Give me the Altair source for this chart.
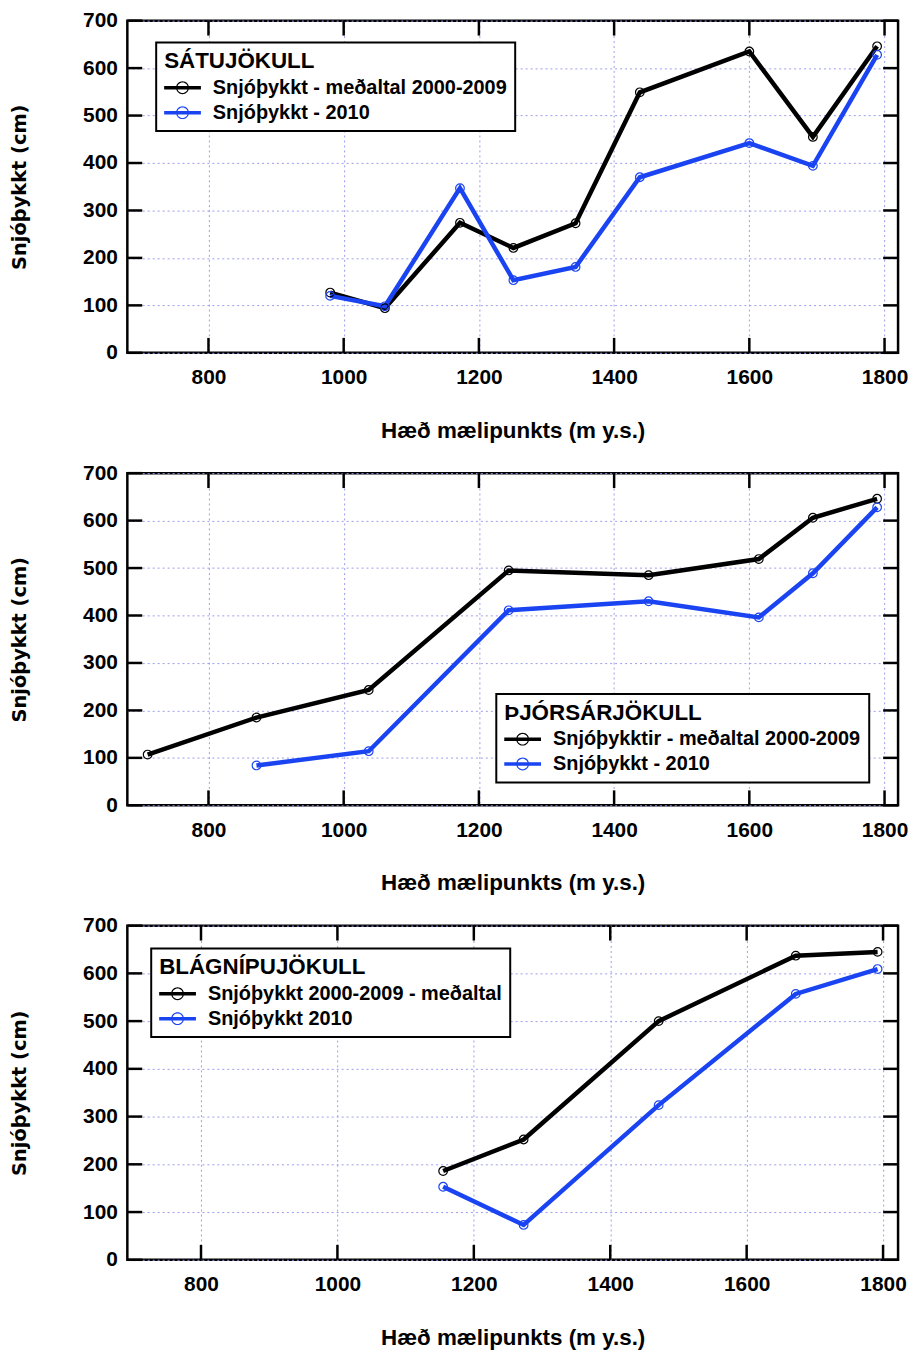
import altair as alt
import pandas as pd

# ---- data ----
# Sátujökull
sat_x = [980, 1061, 1172, 1251, 1343, 1438, 1600, 1694, 1789]
sat_avg = [127, 94, 274, 221, 273, 549, 635, 455, 646]
sat_2010 = [120, 98, 347, 153, 181, 370, 442, 394, 628]
sat_labels = ["Snjóþykkt - meðaltal 2000-2009", "Snjóþykkt - 2010"]

# Þjórsárjökull
thj_avg_x = [710, 871, 1037, 1244, 1451, 1614, 1694, 1789]
thj_avg = [107, 185, 243, 495, 485, 519, 606, 646]
thj_2010_x = [871, 1037, 1244, 1451, 1614, 1694, 1789]
thj_2010 = [84, 114, 411, 430, 396, 489, 628]
thj_labels = ["Snjóþykktir - meðaltal 2000-2009", "Snjóþykkt - 2010"]

# Blágnípujökull
bla_x = [1155, 1273, 1471, 1672, 1792]
bla_avg = [186, 252, 500, 637, 645]
bla_2010 = [153, 73, 324, 557, 609]
bla_labels = ["Snjóþykkt 2000-2009 - meðaltal", "Snjóþykkt 2010"]

x_ticks = [800, 1000, 1200, 1400, 1600, 1800]
y_ticks = [0, 100, 200, 300, 400, 500, 600, 700]

COLORS = ["#000000", "#1a44f2"]
TICK_LEN = 15

# legend symbol: thick line with a thin ring (unit = sqrt(size)/2 = 8px)
SYMBOL = ("M-2.31,-0.22H2.31V0.22H-2.31Z "
          "M0.81,0A0.81,0.81,0,1,1,-0.81,0A0.81,0.81,0,1,1,0.81,0Z "
          "M0.66,0A0.66,0.66,0,1,0,-0.66,0A0.66,0.66,0,1,0,0.66,0Z")


def panel(title, labels, xa, ya, xb, yb, width, height, xdomain, lx, ly, tpad):
    rows = []
    for x, y in zip(xa, ya):
        rows.append({"x": x, "y": y, "series": labels[0], "k": 0})
    for x, y in zip(xb, yb):
        rows.append({"x": x, "y": y, "series": labels[1], "k": 1})
    df = pd.DataFrame(rows)

    xs = alt.Scale(domain=xdomain, nice=False, zero=False)
    ys = alt.Scale(domain=[0, 700], nice=False)
    x_enc = alt.X("x:Q", scale=xs,
                  axis=alt.Axis(values=x_ticks, format="d",
                                title="Hæð mælipunkts (m y.s.)",
                                labelPadding=14, titlePadding=32,
                                labelFlush=False, grid=True))
    y_enc = alt.Y("y:Q", scale=ys,
                  axis=alt.Axis(values=y_ticks, format="d",
                                title="Snjóþykkt (cm)",
                                titleFont="DejaVu Sans", titleFontSize=19.5,
                                labelPadding=10, titlePadding=tpad,
                                labelFlush=False, grid=True))

    base = alt.Chart(df)
    layers = []
    for k in (0, 1):
        sub = base.transform_filter(alt.datum.k == k)
        layers.append(sub.mark_line(strokeWidth=4.5, color=COLORS[k]).encode(
            x=x_enc if k == 0 else "x:Q", y=y_enc if k == 0 else "y:Q"))
    for k in (0, 1):
        sub = base.transform_filter(alt.datum.k == k)
        layers.append(sub.mark_point(shape="circle", filled=False, size=75,
                                     strokeWidth=1.2, color=COLORS[k],
                                     opacity=1).encode(x="x:Q", y="y:Q"))

    leg = base.mark_point(shape="circle", filled=True, opacity=0).encode(
        x="x:Q", y="y:Q",
        fill=alt.Fill("series:N",
                      scale=alt.Scale(domain=labels, range=COLORS),
                      legend=alt.Legend(title=title, orient="none",
                                        legendX=lx, legendY=ly,
                                        symbolType=SYMBOL, symbolSize=256,
                                        symbolStrokeWidth=0, symbolOpacity=1,
                                        symbolOffset=8.5, labelOffset=20.5,
                                        padding=8, titlePadding=5,
                                        rowPadding=5, labelLimit=500,
                                        titleLimit=500)))

    ydf = pd.DataFrame({"y": y_ticks})
    xdf = pd.DataFrame({"x": x_ticks})
    tick_style = dict(color="black", strokeWidth=2.5)
    yl = alt.Chart(ydf).mark_rule(**tick_style).encode(
        y=alt.Y("y:Q", scale=ys), x=alt.value(0), x2=alt.value(TICK_LEN))
    yr = alt.Chart(ydf).mark_rule(**tick_style).encode(
        y=alt.Y("y:Q", scale=ys), x=alt.value(width - TICK_LEN),
        x2=alt.value(width))
    xb_ = alt.Chart(xdf).mark_rule(**tick_style).encode(
        x=alt.X("x:Q", scale=xs), y=alt.value(height - TICK_LEN),
        y2=alt.value(height))
    xt_ = alt.Chart(xdf).mark_rule(**tick_style).encode(
        x=alt.X("x:Q", scale=xs), y=alt.value(0), y2=alt.value(TICK_LEN))

    return alt.layer(layers[0], yl, yr, xb_, xt_, layers[1], layers[2],
                     layers[3], leg).properties(width=width, height=height)


p1 = panel("SÁTUJÖKULL", sat_labels, sat_x, sat_avg, sat_x, sat_2010,
           775, 334, [680, 1820], 29, 22, 53)
p2 = panel("ÞJÓRSÁRJÖKULL", thj_labels, thj_avg_x, thj_avg, thj_2010_x, thj_2010,
           775, 334, [680, 1820], 371, 222, 53)
p3 = panel("BLÁGNÍPUJÖKULL", bla_labels, bla_x, bla_avg, bla_x, bla_2010,
           775, 336, [692, 1822], 24, 23, 53)

chart = alt.concat(p1, p2, p3, columns=1, spacing=17).resolve_scale(
    x="independent", y="independent", fill="independent"
).resolve_legend(fill="independent").properties(
    padding={"left": 0, "top": -4, "right": 0, "bottom": 0},
    background="white",
).configure_view(
    stroke="black", strokeWidth=2.5
).configure_axis(
    labelFont="Liberation Sans", labelFontSize=21, labelFontWeight="bold",
    labelColor="black", titleFont="Liberation Sans", titleFontSize=22.5,
    titleFontWeight="bold", titleColor="black", domain=False, ticks=False,
    gridColor="#9c9cec", gridDash=[2, 3], gridWidth=1,
).configure_legend(
    titleFont="Liberation Sans", titleFontSize=22.5, titleFontWeight="bold",
    titleColor="black", labelFont="Liberation Sans", labelFontSize=20,
    labelFontWeight="bold", labelColor="black", strokeColor="black",
    strokeWidth=2, fillColor="white",
)

chart.save("out.html", embed_options={"renderer": "svg", "actions": False})
